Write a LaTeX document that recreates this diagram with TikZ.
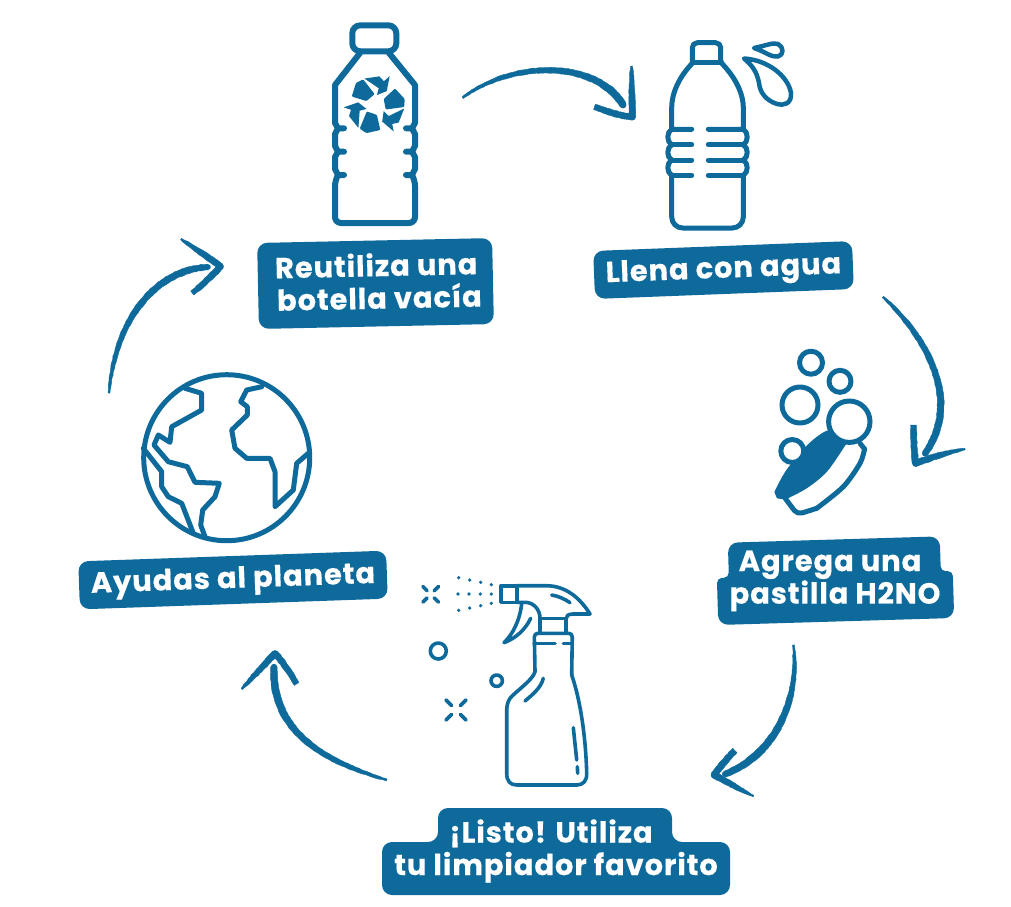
\documentclass[tikz,border=0pt]{standalone}
\usepackage{fontspec}
\setmainfont{Poppins}[LetterSpace=3,BoldFeatures={FakeBold=0.3}]
\usetikzlibrary{calc,decorations.pathmorphing}
\definecolor{azul}{HTML}{0F6A9C}
\tikzset{
  labelbox/.style={fill=azul,rounded corners=10pt,inner sep=0pt},
  labeltext/.style={text=white,inner sep=0pt,align=center,font=\fontsize{29}{32.5}\selectfont\bfseries},
  icon/.style={draw=azul,line join=round,line cap=round},
  brushstroke/.style={fill=azul,draw=azul,line width=.4pt,line join=round,decorate,decoration={random steps,segment length=2.5pt,amplitude=.3pt}}
}
% tapered stroke: four control points, four half widths
\newcommand{\brush}[8]{%
  \path[brushstroke]
    ($(#1)!#5pt!90:(#2)$) .. controls ($(#2)!#6pt!90:(#3)$) and ($(#3)!#7pt!90:(#4)$) .. ($(#4)!#8pt!-90:(#3)$)
    -- ($(#4)!#8pt!90:(#3)$) .. controls ($(#3)!#7pt!-90:(#4)$) and ($(#2)!#6pt!-90:(#3)$) .. ($(#1)!#5pt!-90:(#2)$) -- cycle;
  \fill[azul] (#4) circle[radius=#8pt];
}
\begin{document}
\begin{tikzpicture}[x=1pt,y=-1pt]
\useasboundingbox (0,0) rectangle (1011,906);
\fill[white] (0,0) rectangle (1011,906);

% ---------- labels
\node[labelbox,minimum width=235pt,minimum height=86pt,rotate=1.2] (reutiliza) at (375.5,283.5) {};
\node[labeltext,rotate=1.2] (reutilizatext) at (376.5,281) {Reutiliza una\\\hspace*{5pt}botella vacía};
\node[labelbox,minimum width=259pt,minimum height=48pt,rotate=2.2] (llena) at (723.5,270) {};
\node[labeltext,rotate=2.2] (llenatext) at (723.5,271) {Llena con agua};
\node[labelbox,minimum width=308pt,minimum height=48pt,rotate=2] (ayudas) at (233,580) {};
\node[labeltext,rotate=2] (ayudastext) at (233,581) {Ayudas al planeta};
\begin{scope}[shift={(835,580.5)},rotate=1.7]
  \fill[azul] [rounded corners=10pt] (-106,-41) -- (106,-41) [rounded corners=5pt] -- (106,-6) -- (118,-6) [rounded corners=10pt] -- (118,41) -- (-118,41) [rounded corners=5pt] -- (-118,-6) -- (-106,-6) [rounded corners=10pt] -- cycle;
  \node[labeltext] (agrega) at (0,0.5) {Agrega una\hspace*{10pt}\\pastilla H2NO};
\end{scope}
\fill[azul,rounded corners=10pt] (438,808) -- (672,808) -- (672,842) -- (730,842) -- (730,895) -- (382,895) -- (382,842) -- (438,842) -- cycle;
\node[labeltext] (listo) at (556,851) {¡Listo! Utiliza\hspace*{10pt}\\tu limpiador favorito};

% ---------- bottle with recycling symbol
\begin{scope}[icon,line width=6pt]
  \draw[rounded corners=8pt] (352.3,25.3) rectangle (396.3,51.3);
  \draw (360,53) -- (335,85) -- (335,123) -- (338,128.3) -- (344,128.3);
  \draw (338,128.3) -- (335,134) -- (335,146) -- (338,151.7) -- (344,151.7);
  \draw (338,151.7) -- (335,157) -- (335,169) -- (338,175) -- (344,175);
  \draw[rounded corners=6pt] (338,175) -- (335,180) -- (335,223) -- (415,223) -- (415,180) -- (412,175);
  \draw (389,53) -- (415,85) -- (415,123) -- (412,128.3) -- (406,128.3);
  \draw (412,128.3) -- (415,134) -- (415,146) -- (412,151.7) -- (406,151.7);
  \draw (412,151.7) -- (415,157) -- (415,169) -- (412,175) -- (406,175);
\end{scope}
\foreach \ang in {0,120,240}{
  \begin{scope}[shift={(375.7,105)},rotate=\ang]
    \fill[azul,rounded corners=1pt] (8,-6) -- (19.3,-16.5) -- (29,-6) -- (28.5,2) -- (10,4.5) -- cycle;
    \fill[azul] (8,6) -- (13,11) -- (28.5,3.5) -- (23,17.5) -- (16.5,19) -- (18,26.5) -- (6.5,16.5) -- cycle;
  \end{scope}
}

% ---------- bottle with water drops
\begin{scope}[icon,line width=5pt]
  \draw[rounded corners=5pt] (692.3,62) -- (692.3,42.7) -- (720.7,42.7) -- (720.7,62);
  \draw (692.3,62) -- (721.7,62);
  \draw (692.3,63.3) .. controls (680,76) and (671.7,92) .. (671.7,108) -- (671.7,129.3) -- (691.7,129.3);
  \draw (721.7,63.3) .. controls (734,76) and (743.3,92) .. (743.3,108) -- (743.3,129.3) -- (708.3,129.3);
  \draw (691.7,144.7) -- (671.7,144.7) (691.7,160) -- (671.7,160) (691.7,175.3) -- (671.7,175.3);
  \draw (708.3,144.7) -- (743.3,144.7) (708.3,160) -- (743.3,160) (708.3,175.3) -- (743.3,175.3);
  \draw (671.7,129.3) .. controls (666.5,132) and (666.5,142) .. (671.7,144.7) .. controls (666.5,147.5) and (666.5,157.5) .. (671.7,160) .. controls (666.5,163) and (666.5,172.5) .. (671.7,175.3);
  \draw (743.3,129.3) .. controls (748.5,132) and (748.5,142) .. (743.3,144.7) .. controls (748.5,147.5) and (748.5,157.5) .. (743.3,160) .. controls (748.5,163) and (748.5,172.5) .. (743.3,175.3);
  \draw[rounded corners=11pt] (671.7,175.3) -- (671.7,228) -- (743.3,228) -- (743.3,175.3);
  % drops
  \draw[line width=4.5pt] (744,58.5) .. controls (768,60) and (788,76) .. (791,93) .. controls (792,104) and (783,106) .. (777,104) .. controls (765,100) and (760,92) .. (759,83) .. controls (757,72) and (752,65) .. cycle;
  \draw[line width=4.5pt] (754,48) .. controls (765,46) and (773,42) .. (778,44) .. controls (784,47) and (784,55) .. (778,56.5) .. controls (771,57.5) and (766,52) .. cycle;
\end{scope}

% ---------- tablet and bubbles
\filldraw[azul,line width=3pt,line join=round] plot[smooth,tension=.5] coordinates {(776,492) (787.5,471) (810,444.5) (830,431.5) (845,443)} -- plot[smooth,tension=.5] coordinates {(845,443) (826,470.5) (806,487) (785,498)} -- (778,497) -- cycle;
\begin{scope}[icon,line width=5pt]
  \draw plot[smooth,tension=.5] coordinates {(816.7,508.3) (843.3,486.7) (860,463.3) (864.5,449)};
  \draw[rounded corners=5pt] (785,498) -- (797.3,514.5) -- (816.7,508.3);
  \draw (864.5,449) -- (860,443.3);
  \draw (811,362.7) circle[radius=11.5pt];
  \draw (840,381.3) circle[radius=11pt];
  \draw (800,405) circle[radius=18pt];
  \draw[fill=white] (849.3,421.7) circle[radius=20.7pt];
  \draw[fill=white] (792.3,451) circle[radius=11.5pt];
\end{scope}

% ---------- spray bottle
\begin{scope}[icon,line width=3.6pt]
  \draw (500.7,585.7) rectangle (516.7,602.3);
  \draw (516.7,585.7) -- (546.7,585.7) .. controls (566,586) and (580,598) .. (590,614) -- (573,614) .. controls (568,614) and (566,616) .. (566,619) -- (566,632);
  \draw (516.7,602.3) -- (525,602.3) .. controls (534,602.3) and (540,610) .. (540,618.3) -- (540,632);
  \draw (540,618.3) -- (566,618.3);
  \draw (521.7,603.3) .. controls (520,620) and (513,634) .. (504,642.7) .. controls (516,638) and (525,630) .. (530.7,618.3);
  \draw (551.7,595) .. controls (558,596) and (565,599) .. (570,602.7);
  \draw[rounded corners=3.5pt] (535,671.7) -- (534.3,633.3) -- (572.3,633.3) -- (571.7,675);
  \draw (534,643.3) -- (555,643.3) (563.3,643.3) -- (572,643.3);
  \draw (535,671.7) .. controls (533,680) and (515,692) .. (510,698.3) .. controls (507,703) and (506.7,707) .. (506.7,712) -- (506.7,773.3) .. controls (506.7,781) and (510,785) .. (517,785) -- (576.7,785) .. controls (583,785) and (587,781) .. (586.7,773.3) .. controls (586,745) and (582,705) .. (571.7,675);
  \draw (543.3,678.3) .. controls (541,688) and (532,695) .. (525,701);
  \draw (573.3,727.7) -- (576.7,760);
  \draw (577.3,766.7) -- (577.7,773.3);
  % sparks
  \foreach \sx/\sy/\a/\b in {430.7/594.3/3.5/7.8,456/710/4.5/10}{
    \draw (\sx-\b,\sy-\b) -- (\sx-\a,\sy-\a) (\sx+\b,\sy-\b) -- (\sx+\a,\sy-\a) (\sx-\b,\sy+\b) -- (\sx-\a,\sy+\a) (\sx+\b,\sy+\b) -- (\sx+\a,\sy+\a);
  }
  \draw (438.3,651) circle[radius=8pt];
  \draw (496.7,680.7) circle[radius=5.7pt];
\end{scope}
\foreach \dx/\dy in {458.7/577.7,469.7/580,480.7/582.3,491.3/584.7,458/594,469/594,480.3/594,491.3/594,458.7/610.3,469.7/608,480.7/605.7,491.3/603.3}{
  \fill[azul] (\dx,\dy) circle[radius=1.8pt];
}

% ---------- globe
\begin{scope}[icon,line width=5pt]
  \draw (226.7,457.7) circle[radius=83pt];
  \draw (185,388.3) -- (201.7,393.3) -- (201.7,410) -- (171.7,426.7) -- (170,442.3) -- (158.3,435) -- (154,445) -- (168.3,461.7) -- (187.3,466.7) -- (195,482.3) -- (219.3,483.3) -- (215,496.7) -- (202.7,510) -- (200.7,525) -- (205,536.7);
  \draw (143.3,448.3) -- (161.7,471.7) -- (161.7,486.7) -- (168.3,496.7) -- (181.7,503.3) -- (193.3,533.3);
  \draw (261.7,386.7) -- (246.7,390) -- (240.7,401.7) -- (247.3,406.7) -- (247.3,415) -- (231.7,430) -- (235,448.3) -- (246.7,458.3) -- (270,458.3) -- (275,471.7) -- (275,506.7) -- (293.3,490) -- (296.7,463.3) -- (308.3,453.3);
\end{scope}

% ---------- arrows
\coordinate (a1tail) at (462.7,97.7);
\coordinate (a1end) at (623,105);
\coordinate (a1tip) at (632.5,117);
\brush{a1tail}{513,60}{596,60}{a1end}{1}{4.2}{4.6}{3.4}
\brush{594.5,107}{610,112}{620,116}{a1tip}{2.8}{3.2}{3.2}{3.2}
\brush{631.5,66}{631.7,80}{632,100}{a1tip}{.8}{3.2}{3.2}{3.2}

\coordinate (a2tail) at (883,297);
\coordinate (a2end) at (925,453.5);
\coordinate (a2tip) at (915.5,463.5);
\brush{a2tail}{925,335}{963,400}{a2end}{1}{4.6}{5}{3}
\brush{913.5,425}{913.5,438}{914,450}{a2tip}{3}{3.2}{3.2}{3.2}
\brush{965,449}{948,452}{930,458}{a2tip}{.8}{2.8}{3.2}{3.2}

\coordinate (a3tail) at (793.5,645);
\coordinate (a3end) at (725,774);
\coordinate (a3tip) at (714,775);
\brush{a3tail}{800,700}{775,755}{a3end}{1}{4.4}{4.8}{3}
\brush{735,750.5}{728,757}{720,767}{a3tip}{3}{3.2}{3.2}{3.2}
\brush{753.5,796}{742,791}{728,782}{a3tip}{.8}{2.6}{3}{3.2}

\coordinate (a4tail) at (386.7,780);
\coordinate (a4end) at (274,667);
\coordinate (a4tip) at (275,653.5);
\brush{a4tail}{320,760}{272,730}{a4end}{1}{4.2}{4.8}{3.2}
\brush{241.7,689}{252,678}{264,665}{a4tip}{.8}{3}{3.2}{3.2}
\brush{296.7,684}{290,673}{283,662}{a4tip}{2.6}{3}{3.2}{3.2}

\coordinate (a5tail) at (109,393);
\coordinate (a5end) at (208,267);
\coordinate (a5tip) at (220.5,266.5);
\brush{a5tail}{115,320}{155,270}{a5end}{1}{4.4}{4.4}{2.8}
\brush{181,239}{194,248}{208,257}{a5tip}{.8}{3}{3.2}{3.2}
\brush{192.3,293}{200,287}{212,276}{a5tip}{2.6}{2.8}{3.2}{3.2}
\end{tikzpicture}
\end{document}
